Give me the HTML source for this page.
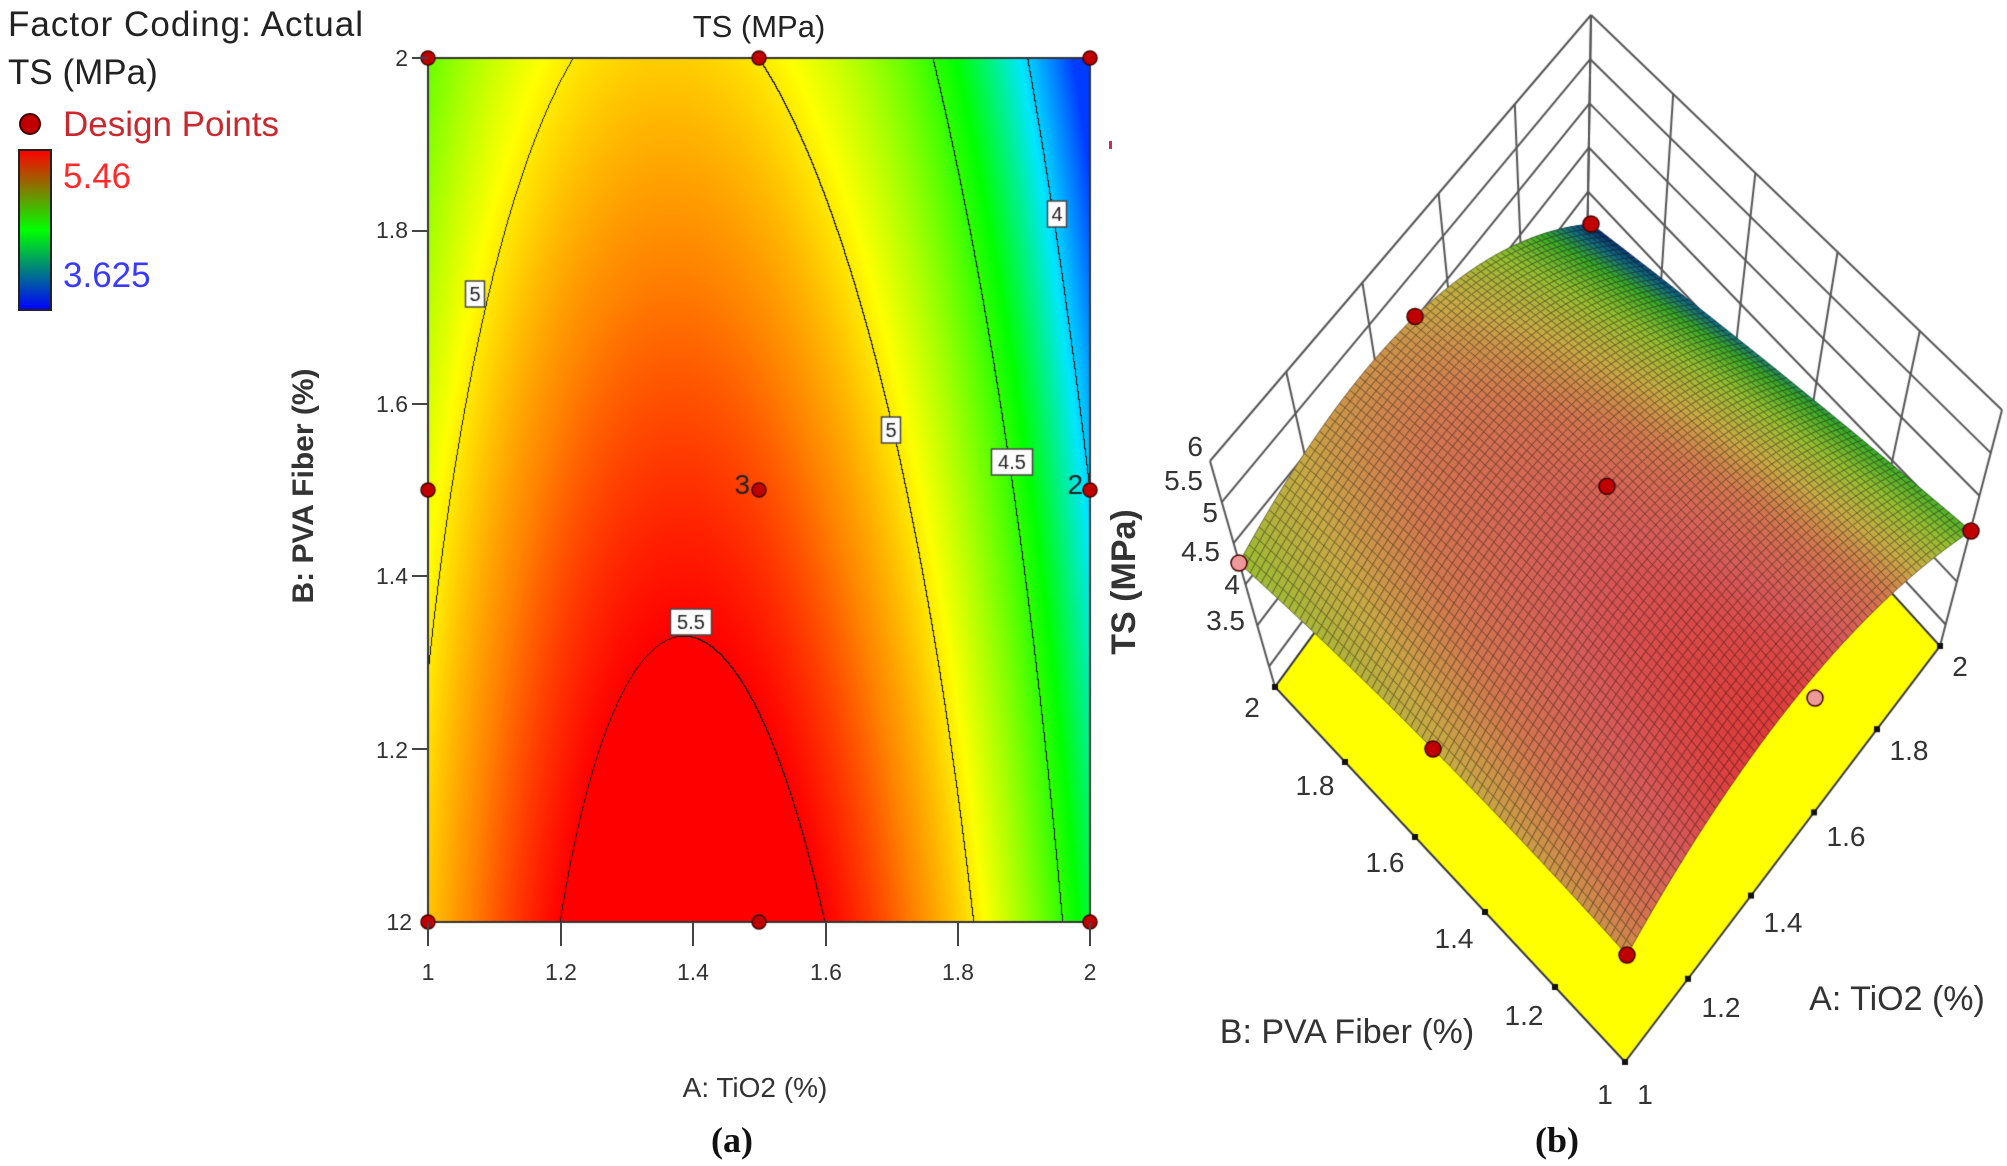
<!DOCTYPE html>
<html><head><meta charset="utf-8"><style>
html,body{margin:0;padding:0;background:#fff;}
#wrap{position:relative;width:2007px;height:1166px;overflow:hidden;}
canvas{position:absolute;left:0;top:0;}
svg{position:absolute;left:0;top:0;}
</style></head><body><div id="wrap">
<canvas id="c" width="2007" height="1166"></canvas>
<svg width="2007" height="1166" font-family="Liberation Sans, Arial, sans-serif">
<text x="8" y="36" font-size="35" fill="#222" textLength="355">Factor Coding: Actual</text>
<text x="8" y="84" font-size="35" fill="#222">TS (MPa)</text>
<circle cx="30" cy="124" r="10" fill="#c00000" stroke="#400" stroke-width="2"/>
<text x="63" y="136" font-size="35" fill="#c8282e">Design Points</text>
<defs><linearGradient id="cb" x1="0" y1="0" x2="0" y2="1">
<stop offset="0" stop-color="#f00"/><stop offset="0.5" stop-color="#0f0"/><stop offset="1" stop-color="#00f"/></linearGradient></defs>
<rect x="19" y="150" width="32" height="160" fill="url(#cb)" stroke="#222" stroke-width="2"/>
<text x="63" y="188" font-size="35" fill="#ff2a2a">5.46</text>
<text x="63" y="287" font-size="35" fill="#3a3aff">3.625</text>
<text x="759" y="37" font-size="31" fill="#222" text-anchor="middle">TS (MPa)</text>
<g font-size="23" fill="#333" text-anchor="end">
<text x="408" y="66">2</text><text x="408" y="238">1.8</text><text x="408" y="412">1.6</text>
<text x="408" y="584">1.4</text><text x="408" y="758">1.2</text><text x="412" y="930">12</text>
</g>
<g font-size="23" fill="#333" text-anchor="middle">
<text x="428" y="980">1</text><text x="561" y="980">1.2</text><text x="693" y="980">1.4</text>
<text x="826" y="980">1.6</text><text x="958" y="980">1.8</text><text x="1090" y="980">2</text>
</g>
<g stroke="#444" stroke-width="2">
<line x1="428" y1="922" x2="428" y2="946"/><line x1="561" y1="922" x2="561" y2="946"/><line x1="693" y1="922" x2="693" y2="946"/>
<line x1="826" y1="922" x2="826" y2="946"/><line x1="958" y1="922" x2="958" y2="946"/><line x1="1090" y1="922" x2="1090" y2="946"/>
<line x1="412" y1="58" x2="428" y2="58"/><line x1="412" y1="231" x2="428" y2="231"/><line x1="412" y1="404" x2="428" y2="404"/>
<line x1="412" y1="576" x2="428" y2="576"/><line x1="412" y1="749" x2="428" y2="749"/>
</g>
<text transform="translate(313,486) rotate(-90)" font-size="30" font-weight="bold" fill="#333" text-anchor="middle">B: PVA Fiber (%)</text>
<text x="755" y="1097" font-size="28" fill="#333" text-anchor="middle">A: TiO2 (%)</text>
<text x="732" y="1152" font-size="36" font-weight="bold" fill="#111" text-anchor="middle" font-family="Liberation Serif, serif">(a)</text>
<g font-size="28" fill="#333" text-anchor="end">
<text x="1203" y="456">6</text><text x="1203" y="490">5.5</text><text x="1218" y="522">5</text>
<text x="1220" y="561">4.5</text><text x="1240" y="594">4</text><text x="1245" y="630">3.5</text>
</g>
<g font-size="28" fill="#333" text-anchor="middle">
<text x="1252" y="717">2</text><text x="1315" y="795">1.8</text><text x="1385" y="872">1.6</text>
<text x="1454" y="948">1.4</text><text x="1524" y="1025">1.2</text><text x="1605" y="1104">1</text>
<text x="1645" y="1104">1</text><text x="1721" y="1017">1.2</text><text x="1783" y="932">1.4</text>
<text x="1846" y="846">1.6</text><text x="1909" y="760">1.8</text><text x="1960" y="676">2</text>
</g>
<text x="1347" y="1043" font-size="34" fill="#333" text-anchor="middle">B: PVA Fiber (%)</text>
<text x="1897" y="1010" font-size="34" fill="#333" text-anchor="middle">A: TiO2 (%)</text>
<text transform="translate(1135,582) rotate(-90)" font-size="34" font-weight="bold" fill="#333" text-anchor="middle">TS (MPa)</text>
<text x="1557" y="1152" font-size="36" font-weight="bold" fill="#111" text-anchor="middle" font-family="Liberation Serif, serif">(b)</text>
<rect x="1109" y="141" width="3" height="8" fill="#c03060"/>
</svg>
</div>
<script>
function TS(A,B){var A0=1.4-0.04*(B-1);var d=B-1;return 5.638-3.45*(A-A0)*(A-A0)-(0.343*d+0.227*d*d)-(A>1.6?1.2*Math.pow(A-1.6,3):0);}
function lerp(a,b,t){return a+(b-a)*t;}
function cmap(v,st){for(var i=0;i<st.length-1;i++){if(v<=st[i+1][0]){var t=Math.max(0,(v-st[i][0])/(st[i+1][0]-st[i][0]));return [lerp(st[i][1],st[i+1][1],t),lerp(st[i][2],st[i+1][2],t),lerp(st[i][3],st[i+1][3],t)];}}var l=st[st.length-1];return [l[1],l[2],l[3]];}
var S2=[[3.7,0,60,255],[4.05,0,230,255],[4.4,0,255,0],[4.95,255,255,0],[5.25,255,130,0],[5.5,255,0,0]];
var c=document.getElementById('c').getContext('2d');
var X0=428,X1=1090,Y0=58,Y1=922,W=X1-X0,H=Y1-Y0;
var img=c.createImageData(W,H);
var vals=new Float32Array(W*H);
for(var j=0;j<H;j++)for(var i=0;i<W;i++){var A=1+i/(W-1),B=2-j/(H-1);vals[j*W+i]=TS(A,B);}
var levels=[4,4.5,5,5.5];
for(var j=0;j<H;j++)for(var i=0;i<W;i++){var v=vals[j*W+i];var col=cmap(v,S2);var k=(j*W+i)*4;
 var line=false;if(i<W-1&&j<H-1){var r=vals[j*W+i+1],d=vals[(j+1)*W+i];for(var l=0;l<4;l++){var L=levels[l];if((v-L)*(r-L)<=0||(v-L)*(d-L)<=0){line=true;}}}
 if(line){col=[20,20,20];}
 img.data[k]=col[0];img.data[k+1]=col[1];img.data[k+2]=col[2];img.data[k+3]=255;}
c.putImageData(img,X0,Y0);
c.strokeStyle='#333';c.lineWidth=2;c.strokeRect(X0,Y0,W,H);
function lab(x,y,t){c.fillStyle='#fff';var w=t.length*11+8;c.fillRect(x-w/2,y-13,w,26);c.strokeStyle='#444';c.lineWidth=1.5;c.strokeRect(x-w/2,y-13,w,26);c.fillStyle='#222';c.font='20px Liberation Sans';c.textAlign='center';c.fillText(t,x,y+7);}
lab(475,294,'5');lab(891,430,'5');lab(1012,462,'4.5');lab(1057,214,'4');lab(691,622,'5.5');
function dot(x,y,r,f){c.beginPath();c.arc(x,y,r,0,7);c.fillStyle=f||'#c00000';c.fill();c.strokeStyle='#400';c.lineWidth=1.5;c.stroke();}
var pts=[[1,2],[1.5,2],[2,2],[1,1.5],[1.5,1.5],[2,1.5],[1,1],[1.5,1],[2,1]];
pts.forEach(function(p){dot(X0+(p[0]-1)*W,Y1-(p[1]-1)*H,7);});
c.fillStyle='#222';c.font='28px Liberation Sans';c.textAlign='right';c.fillText('3',750,494);c.fillText('2',1083,494);
function ln(x1,y1,x2,y2){c.beginPath();c.moveTo(x1,y1);c.lineTo(x2,y2);c.stroke();}
var LT=[1210,461],LF=[1275,687],BT=[1591,15],BF=[1587,258],RT=[2002,410],RF=[1940,646];
c.strokeStyle='#555';c.lineWidth=2;
function wall(T1,F1,T2,F2){
 for(var k=0;k<=5;k++){var t=k*0.1818;var a=[lerp(T1[0],F1[0],t),lerp(T1[1],F1[1],t)],b=[lerp(T2[0],F2[0],t),lerp(T2[1],F2[1],t)];ln(a[0],a[1],b[0],b[1]);}
 for(var k=0;k<=5;k++){var s=k/5;ln(lerp(T1[0],T2[0],s),lerp(T1[1],T2[1],s),lerp(F1[0],F2[0],s),lerp(F1[1],F2[1],s));}
}
wall(LT,LF,BT,BF);wall(RT,RF,BT,BF);
var F11=[1625,1062],F21=RF,F12=LF,F22=BF;
c.fillStyle='#ffff00';c.beginPath();c.moveTo(F11[0],F11[1]);c.lineTo(F21[0],F21[1]);c.lineTo(F22[0],F22[1]);c.lineTo(F12[0],F12[1]);c.closePath();c.fill();c.strokeStyle='#333';c.lineWidth=2;c.stroke();
c.fillStyle='#111';for(var k=0;k<=5;k++){var s=k/5;c.fillRect(lerp(F11[0],F12[0],s)-3,lerp(F11[1],F12[1],s)-3,6,6);c.fillRect(lerp(F11[0],F21[0],s)-3,lerp(F11[1],F21[1],s)-3,6,6);}
var C11=[1627,955],C21=[1971,531],C12=[1239,563],C22=[1591,224];
function SP(u,v){var x=(1-u)*(1-v)*C11[0]+u*(1-v)*C21[0]+(1-u)*v*C12[0]+u*v*C22[0];var y=(1-u)*(1-v)*C11[1]+u*(1-v)*C21[1]+(1-u)*v*C12[1]+u*v*C22[1];
 var bu=4*u*(1-u),bv=4*v*(1-v);y-=bu*(49+28*v)+bv*(10-6*u)+bu*bv*12;return [x,y];}
var S3=[[3.6,10,40,110],[3.9,20,110,130],[4.2,60,170,40],[4.6,150,190,50],[4.95,200,170,70],[5.2,210,120,80],[5.45,215,90,90],[5.7,225,50,50]];
var N=70;
for(var s=2*N-2;s>=0;s--){for(var i=0;i<N;i++){var j=s-i;if(j<0||j>=N)continue;
 var u0=i/N,u1=(i+1)/N,v0=j/N,v1=(j+1)/N;var p1=SP(u0,v0),p2=SP(u1,v0),p3=SP(u1,v1),p4=SP(u0,v1);
 var v=TS(1+(u0+u1)/2,1+(v0+v1)/2);var col=cmap(v,S3);
 c.fillStyle='rgb('+(col[0]|0)+','+(col[1]|0)+','+(col[2]|0)+')';
 c.strokeStyle='rgb('+(col[0]*0.55|0)+','+(col[1]*0.55|0)+','+(col[2]*0.55|0)+')';c.lineWidth=0.9;
 c.beginPath();c.moveTo(p1[0],p1[1]);c.lineTo(p2[0],p2[1]);c.lineTo(p3[0],p3[1]);c.lineTo(p4[0],p4[1]);c.closePath();c.fill();c.stroke();}}
[[0,0],[1,1],[0.5,1],[0.5,0.5],[1,0],[0,0.5]].forEach(function(q){var p=SP(q[0],q[1]);dot(p[0],p[1],8);});
var pp=SP(0,1);dot(pp[0],pp[1],8,'#e99');dot(1815,698,8,'#e99');
</script>
</body></html>
